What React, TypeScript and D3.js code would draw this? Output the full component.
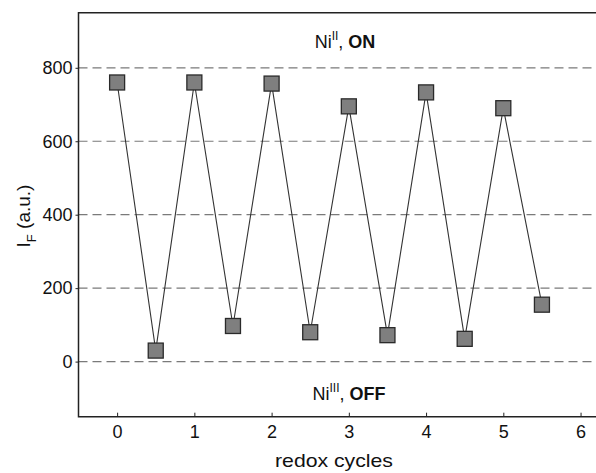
import { useEffect, useRef } from 'react';
import * as d3 from 'd3';

const cycles = [0, 0.5, 1, 1.5, 2, 2.5, 3, 3.5, 4, 4.5, 5, 5.5];
const intensity = [760, 30, 760, 97, 757, 80, 695, 72, 733, 62, 690, 155];
const yTicks = [0, 200, 400, 600, 800];
const xTicks = [0, 1, 2, 3, 4, 5, 6];

const W = 596;
const H = 473;

export default function App() {
  const svgRef = useRef<SVGSVGElement>(null);

  useEffect(() => {
    if (!svgRef.current) return;
    const svg = d3.select(svgRef.current);
    svg.selectAll('*').remove();

    const left = 78.5, top = 12.7, bottom = 416.7;
    const x = d3.scaleLinear().domain([-0.5, 6.2]).range([left, W]);
    const y = d3.scaleLinear().domain([-150, 950]).range([bottom, top]);
    const font = 'Liberation Sans, Arial, Helvetica, sans-serif';

    // grid
    svg.append('g')
      .selectAll('line')
      .data(yTicks)
      .enter()
      .append('line')
      .attr('x1', left)
      .attr('x2', W)
      .attr('y1', d => y(d))
      .attr('y2', d => y(d))
      .attr('stroke', '#7a7a7a')
      .attr('stroke-width', 1.2)
      .attr('stroke-dasharray', '9,5');

    // frame: left, top, bottom
    svg.append('path')
      .attr('d', `M${W},${top}H${left}V${bottom}H${W}`)
      .attr('fill', 'none')
      .attr('stroke', '#222')
      .attr('stroke-width', 1.5);

    // y axis
    const yAxis = svg.append('g')
      .attr('transform', `translate(${left},0)`)
      .call(d3.axisLeft(y).tickValues(yTicks).tickSize(3).tickPadding(3));
    yAxis.select('.domain').remove();
    yAxis.selectAll('line').attr('stroke', '#222');
    yAxis.selectAll('text')
      .attr('fill', '#111')
      .style('font-family', font)
      .style('font-size', '18px');

    // x axis (ticks inward)
    const xAxis = svg.append('g')
      .attr('transform', `translate(0,${bottom})`)
      .call(d3.axisBottom(x).tickValues(xTicks).tickFormat(d3.format('d')).tickSize(-4).tickPadding(9));
    xAxis.select('.domain').remove();
    xAxis.selectAll('line').attr('stroke', '#222');
    xAxis.selectAll('text')
      .attr('fill', '#111')
      .style('font-family', font)
      .style('font-size', '18px');

    // data line
    const pts = cycles.map((c, i) => [c, intensity[i]] as [number, number]);
    svg.append('path')
      .datum(pts)
      .attr('fill', 'none')
      .attr('stroke', '#333')
      .attr('stroke-width', 1.1)
      .attr('d', d3.line<[number, number]>().x(d => x(d[0])).y(d => y(d[1])));

    const s = 15;
    svg.append('g')
      .selectAll('rect')
      .data(pts)
      .enter()
      .append('rect')
      .attr('x', d => x(d[0]) - s / 2)
      .attr('y', d => y(d[1]) - s / 2)
      .attr('width', s)
      .attr('height', s)
      .attr('fill', '#7f7f7f')
      .attr('stroke', '#2a2a2a')
      .attr('stroke-width', 1.3);

    // annotations
    const note = (cx: number, by: number, sup: string, label: string) => {
      const t = svg.append('text')
        .attr('x', cx)
        .attr('y', by)
        .attr('text-anchor', 'middle')
        .attr('fill', '#111')
        .style('font-family', font)
        .style('font-size', '18px');
      t.append('tspan').text('Ni');
      t.append('tspan').attr('dy', -8).style('font-size', '12px').text(sup);
      t.append('tspan').attr('dy', 8).text(', ');
      t.append('tspan').style('font-weight', 'bold').text(label);
    };
    note(345, 48, 'II', 'ON');
    note(349, 400, 'III', 'OFF');

    // axis titles
    svg.append('text')
      .attr('x', 275)
      .attr('y', 467)
      .attr('fill', '#111')
      .attr('textLength', 118)
      .attr('lengthAdjust', 'spacingAndGlyphs')
      .style('font-family', font)
      .style('font-size', '19px')
      .text('redox cycles');

    const yl = svg.append('text')
      .attr('transform', 'translate(30,216) rotate(-90)')
      .attr('text-anchor', 'middle')
      .attr('fill', '#111')
      .style('font-family', font)
      .style('font-size', '19px');
    yl.append('tspan').text('I');
    yl.append('tspan').attr('dy', 6).style('font-size', '13px').text('F');
    yl.append('tspan').attr('dy', -6).text(' (a.u.)');
  }, []);

  return (
    <svg
      ref={svgRef}
      width={W}
      height={H}
      style={{ position: 'absolute', left: 0, top: 0, background: '#fff' }}
    />
  );
}
